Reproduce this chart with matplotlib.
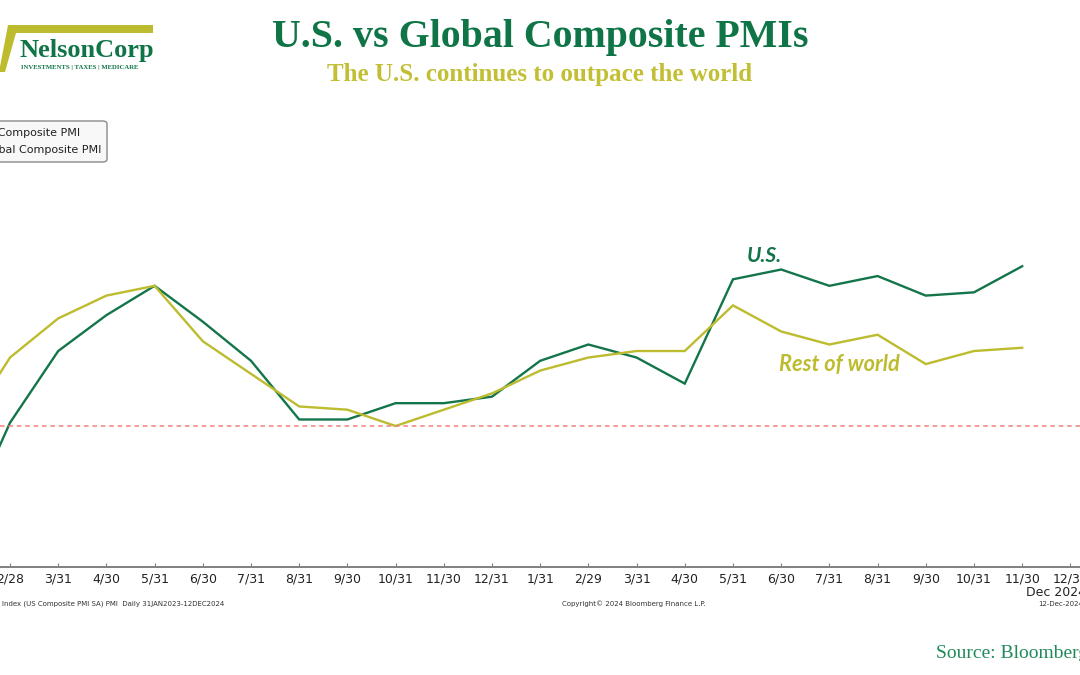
import matplotlib.pyplot as plt
from matplotlib.patches import Polygon, FancyBboxPatch

# monthly composite PMI, Jan 2023 - Nov 2024
us_pmi = [46.8, 50.1, 52.3, 53.4, 54.3, 53.2, 52.0, 50.2, 50.2, 50.7, 50.7, 50.9,
          52.0, 52.5, 52.1, 51.3, 54.5, 54.8, 54.3, 54.6, 54.0, 54.1, 54.9]
row_pmi = [49.8, 52.1, 53.3, 54.0, 54.3, 52.6, 51.6, 50.6, 50.5, 50.0, 50.5, 51.0,
           51.7, 52.1, 52.3, 52.3, 53.7, 52.9, 52.5, 52.8, 51.9, 52.3, 52.4]
tick_labels = ["1/31", "2/28", "3/31", "4/30", "5/31", "6/30", "7/31", "8/31",
               "9/30", "10/31", "11/30", "12/31",
               "1/31", "2/29", "3/31", "4/30", "5/31", "6/30", "7/31", "8/31",
               "9/30", "10/31", "11/30", "12/31"]

W, H = 1080, 675
GREEN = '#0f7446'
US_COL = '#137549'
OLIVE = '#bdbb2e'


def fx(x):
    return x / W


def fy(y):
    return 1 - y / H


fig = plt.figure(figsize=(10.8, 6.75), dpi=100)

# plot area runs off both edges, like the cropped screenshot
ax = fig.add_axes([0, fy(567), 1, fy(100) - fy(567)])
months = list(range(len(us_pmi)))
ax.plot(months, us_pmi, color=US_COL, lw=1.7, solid_joinstyle='miter')
ax.plot(months, row_pmi, color=OLIVE, lw=1.7, solid_joinstyle='miter')
ax.axhline(50, color='#f08080', lw=1.1, ls=(0, (3, 2.5)))

ax.set_xticks(range(len(tick_labels)))
ax.set_xticklabels(tick_labels, fontsize=9, family='DejaVu Sans', color='#222222')
ax.set_xlim(0.7925, 23.2)
ax.set_ylim(45.675, 60.0)
ax.set_yticks([])
for s in ['top', 'left', 'right']:
    ax.spines[s].set_visible(False)
ax.spines['bottom'].set_color('#808080')
ax.spines['bottom'].set_linewidth(1.4)
ax.tick_params(axis='x', direction='in', length=3, color='#808080', pad=4)

# series annotations
ax.text(16.65, 55.2, "U.S.", color=US_COL, fontsize=15, fontweight='bold',
        fontstyle='italic', family='Lato', ha='center', va='center')
ax.text(18.2, 51.9, "Rest of world", color=OLIVE, fontsize=15.7, fontweight='bold',
        fontstyle='italic', family='Lato', ha='center', va='center')

# titles
fig.text(0.5, fy(38), "U.S. vs Global Composite PMIs", ha='center', va='center',
         family='Liberation Serif', fontweight='bold', fontsize=28.7, color=GREEN)
fig.text(0.5, fy(75), "The U.S. continues to outpace the world", ha='center', va='center',
         family='Liberation Serif', fontweight='bold', fontsize=18, color='#c2bf35')

# logo
fig.patches.append(Polygon([(fx(153), fy(25)), (fx(8), fy(25)), (fx(-1), fy(72)),
                            (fx(5), fy(72)), (fx(16), fy(33)), (fx(153), fy(33))],
                           closed=True, transform=fig.transFigure, color=OLIVE, lw=0))
fig.text(fx(20), fy(50), "NelsonCorp", ha='left', va='center', family='Liberation Serif',
         fontweight='bold', fontsize=19, color=GREEN)
fig.text(fx(21), fy(68), "INVESTMENTS | TAXES | MEDICARE", ha='left', va='center',
         family='Liberation Serif', fontweight='bold', fontsize=4.9, color=GREEN)

# clipped legend box
fig.patches.append(FancyBboxPatch((fx(-10), fy(162)), fx(117), fy(121) - fy(162),
                                  boxstyle='round,pad=0,rounding_size=0.004',
                                  transform=fig.transFigure, facecolor='#f8f8f8',
                                  edgecolor='#8a8a8a', lw=1))
fig.text(fx(80), fy(133), "US Composite PMI", ha='right', va='center',
         family='DejaVu Sans', fontsize=8, color='#222222')
fig.text(fx(101), fy(150), "Global Composite PMI", ha='right', va='center',
         family='DejaVu Sans', fontsize=8, color='#222222')

# bloomberg footer
fig.text(fx(1026), fy(592), "Dec 2024", ha='left', va='center', family='DejaVu Sans',
         fontsize=9, color='#222222')
fig.text(fx(2), fy(604), "Index (US Composite PMI SA) PMI  Daily 31JAN2023-12DEC2024",
         ha='left', va='center', family='DejaVu Sans', fontsize=5, color='#333333')
fig.text(fx(634), fy(604), "Copyright\u00a9 2024 Bloomberg Finance L.P.", ha='center',
         va='center', family='DejaVu Sans', fontsize=5, color='#333333')
fig.text(fx(1038), fy(604), "12-Dec-2024", ha='left', va='center', family='DejaVu Sans',
         fontsize=5, color='#333333')

fig.text(fx(936), fy(654), "Source: Bloomberg", ha='left', va='center',
         family='Liberation Serif', fontsize=14, color='#1f8a5a')

fig.savefig('out.png', dpi=100)
